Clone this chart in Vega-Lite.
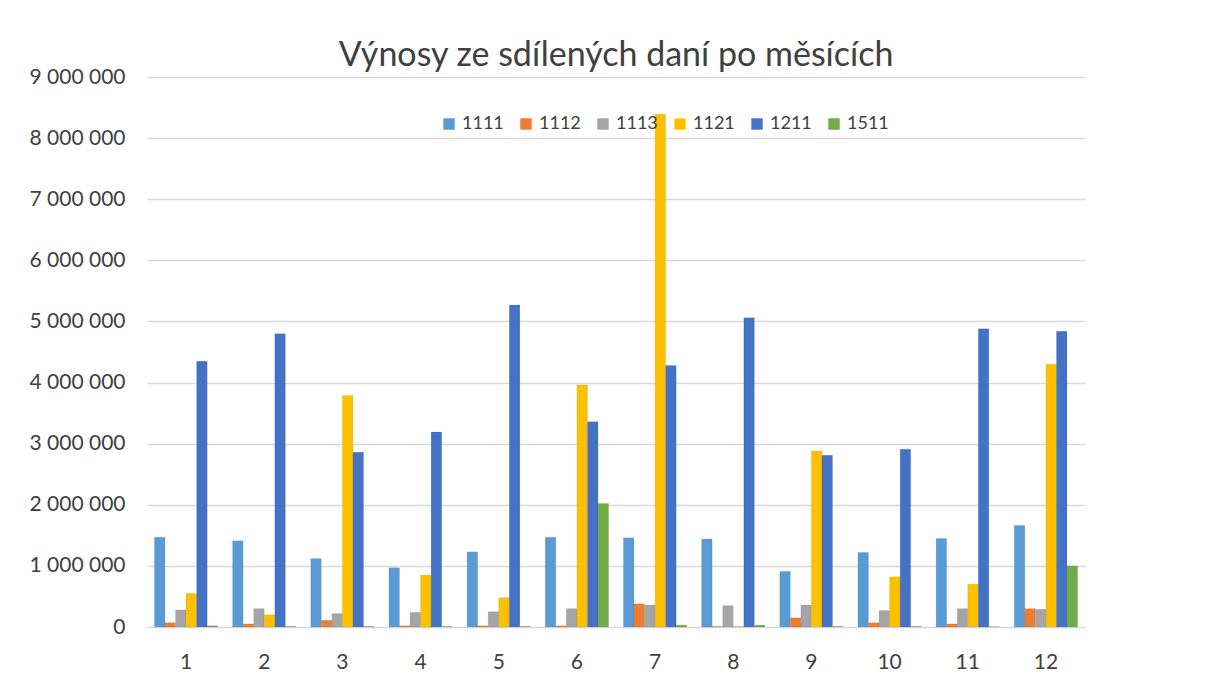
{
  "$schema": "https://vega.github.io/schema/vega-lite/v6.json",
  "autosize": "none",
  "width": 938,
  "height": 550,
  "padding": {"left": 147, "top": 77, "right": 123, "bottom": 50},
  "background": "white",
  "config": {
    "locale": {"number": {"decimal": ",", "thousands": " ", "grouping": [3], "currency": ["", ""]}},
    "view": {"stroke": null},
    "font": "Lato"
  },
  "title": {
    "text": "Výnosy ze sdílených daní po měsících",
    "fontSize": 34,
    "font": "Lato",
    "fontWeight": "normal",
    "color": "#404040",
    "anchor": "middle",
    "offset": -7
  },
  "data": {
    "values": [
      {"mesic": 1, "kod": "1111", "vynos": 1470000}, {"mesic": 1, "kod": "1112", "vynos": 70000}, {"mesic": 1, "kod": "1113", "vynos": 280000}, {"mesic": 1, "kod": "1121", "vynos": 550000}, {"mesic": 1, "kod": "1211", "vynos": 4350000}, {"mesic": 1, "kod": "1511", "vynos": 20000},
      {"mesic": 2, "kod": "1111", "vynos": 1410000}, {"mesic": 2, "kod": "1112", "vynos": 50000}, {"mesic": 2, "kod": "1113", "vynos": 300000}, {"mesic": 2, "kod": "1121", "vynos": 200000}, {"mesic": 2, "kod": "1211", "vynos": 4800000}, {"mesic": 2, "kod": "1511", "vynos": 10000},
      {"mesic": 3, "kod": "1111", "vynos": 1120000}, {"mesic": 3, "kod": "1112", "vynos": 110000}, {"mesic": 3, "kod": "1113", "vynos": 220000}, {"mesic": 3, "kod": "1121", "vynos": 3790000}, {"mesic": 3, "kod": "1211", "vynos": 2860000}, {"mesic": 3, "kod": "1511", "vynos": 10000},
      {"mesic": 4, "kod": "1111", "vynos": 970000}, {"mesic": 4, "kod": "1112", "vynos": 20000}, {"mesic": 4, "kod": "1113", "vynos": 240000}, {"mesic": 4, "kod": "1121", "vynos": 850000}, {"mesic": 4, "kod": "1211", "vynos": 3190000}, {"mesic": 4, "kod": "1511", "vynos": 10000},
      {"mesic": 5, "kod": "1111", "vynos": 1230000}, {"mesic": 5, "kod": "1112", "vynos": 20000}, {"mesic": 5, "kod": "1113", "vynos": 250000}, {"mesic": 5, "kod": "1121", "vynos": 480000}, {"mesic": 5, "kod": "1211", "vynos": 5270000}, {"mesic": 5, "kod": "1511", "vynos": 10000},
      {"mesic": 6, "kod": "1111", "vynos": 1470000}, {"mesic": 6, "kod": "1112", "vynos": 20000}, {"mesic": 6, "kod": "1113", "vynos": 300000}, {"mesic": 6, "kod": "1121", "vynos": 3960000}, {"mesic": 6, "kod": "1211", "vynos": 3360000}, {"mesic": 6, "kod": "1511", "vynos": 2020000},
      {"mesic": 7, "kod": "1111", "vynos": 1460000}, {"mesic": 7, "kod": "1112", "vynos": 380000}, {"mesic": 7, "kod": "1113", "vynos": 360000}, {"mesic": 7, "kod": "1121", "vynos": 8390000}, {"mesic": 7, "kod": "1211", "vynos": 4280000}, {"mesic": 7, "kod": "1511", "vynos": 30000},
      {"mesic": 8, "kod": "1111", "vynos": 1440000}, {"mesic": 8, "kod": "1112", "vynos": 10000}, {"mesic": 8, "kod": "1113", "vynos": 350000}, {"mesic": 8, "kod": "1121", "vynos": 10000}, {"mesic": 8, "kod": "1211", "vynos": 5060000}, {"mesic": 8, "kod": "1511", "vynos": 30000},
      {"mesic": 9, "kod": "1111", "vynos": 910000}, {"mesic": 9, "kod": "1112", "vynos": 150000}, {"mesic": 9, "kod": "1113", "vynos": 360000}, {"mesic": 9, "kod": "1121", "vynos": 2880000}, {"mesic": 9, "kod": "1211", "vynos": 2810000}, {"mesic": 9, "kod": "1511", "vynos": 10000},
      {"mesic": 10, "kod": "1111", "vynos": 1220000}, {"mesic": 10, "kod": "1112", "vynos": 70000}, {"mesic": 10, "kod": "1113", "vynos": 270000}, {"mesic": 10, "kod": "1121", "vynos": 820000}, {"mesic": 10, "kod": "1211", "vynos": 2910000}, {"mesic": 10, "kod": "1511", "vynos": 10000},
      {"mesic": 11, "kod": "1111", "vynos": 1450000}, {"mesic": 11, "kod": "1112", "vynos": 50000}, {"mesic": 11, "kod": "1113", "vynos": 300000}, {"mesic": 11, "kod": "1121", "vynos": 700000}, {"mesic": 11, "kod": "1211", "vynos": 4880000}, {"mesic": 11, "kod": "1511", "vynos": 5000},
      {"mesic": 12, "kod": "1111", "vynos": 1660000}, {"mesic": 12, "kod": "1112", "vynos": 300000}, {"mesic": 12, "kod": "1113", "vynos": 290000}, {"mesic": 12, "kod": "1121", "vynos": 4300000}, {"mesic": 12, "kod": "1211", "vynos": 4840000}, {"mesic": 12, "kod": "1511", "vynos": 1000000}
    ]
  },
  "mark": {"type": "bar", "stroke": "#00000022", "strokeWidth": 0.5},
  "encoding": {
    "x": {
      "field": "mesic",
      "type": "ordinal",
      "title": null,
      "scale": {"paddingInner": 0.19, "paddingOuter": 0.095},
      "axis": {
        "labelAngle": 0,
        "labelFontSize": 21,
        "labelColor": "#404040",
        "labelPadding": 24,
        "ticks": false,
        "domain": false,
        "grid": false
      }
    },
    "xOffset": {"field": "kod", "type": "nominal", "scale": {"paddingInner": 0}},
    "y": {
      "field": "vynos",
      "type": "quantitative",
      "title": null,
      "scale": {"domain": [0, 9000000], "nice": false},
      "axis": {
        "values": [0, 1000000, 2000000, 3000000, 4000000, 5000000, 6000000, 7000000, 8000000, 9000000],
        "format": ",d",
        "labelFontSize": 21,
        "labelColor": "#404040",
        "labelPadding": 22,
        "ticks": false,
        "domain": false,
        "gridColor": "#d9d9d9",
        "gridWidth": 1.5
      }
    },
    "color": {
      "field": "kod",
      "type": "nominal",
      "title": null,
      "scale": {
        "domain": ["1111", "1112", "1113", "1121", "1211", "1511"],
        "range": ["#5b9bd5", "#ed7d31", "#a5a5a5", "#ffc000", "#4472c4", "#70ad47"]
      },
      "legend": {
        "orient": "none",
        "direction": "horizontal",
        "legendX": 293,
        "legendY": 38,
        "symbolType": "square",
        "symbolSize": 130,
        "symbolStrokeWidth": 0,
        "labelFontSize": 18,
        "labelColor": "#404040",
        "labelOffset": 4,
        "columnPadding": 13
      }
    }
  }
}
